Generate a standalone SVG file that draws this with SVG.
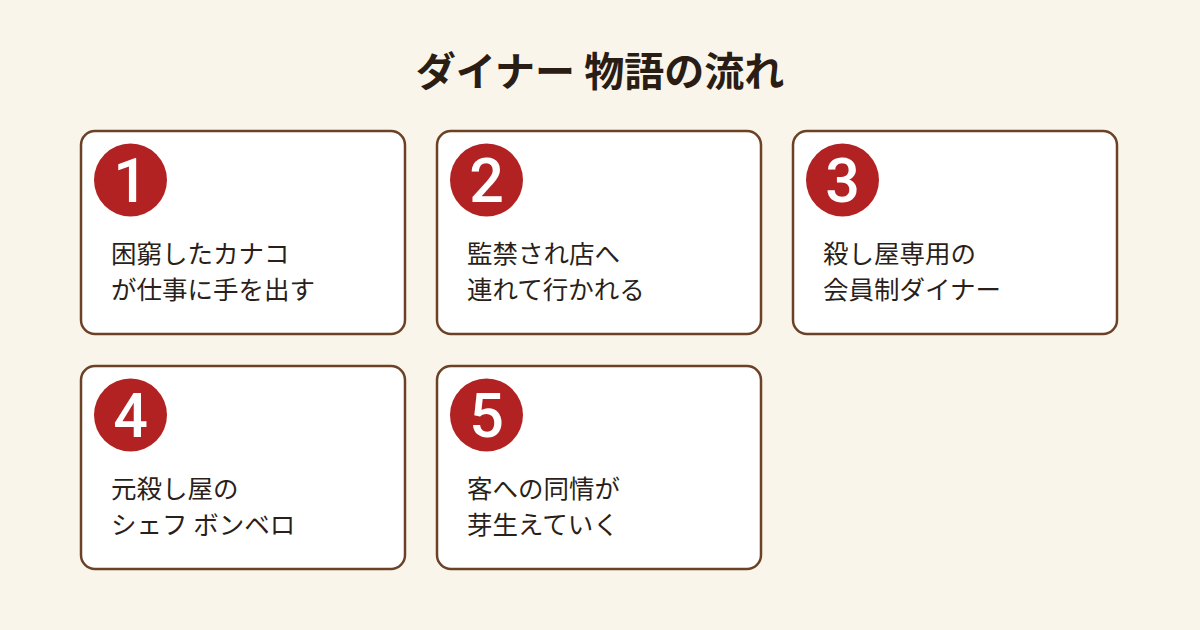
<svg xmlns="http://www.w3.org/2000/svg" width="1200" height="630" viewBox="0 0 1200 630">
<style>
.bg{fill:#faf5ea}
.card{fill:#ffffff;stroke:#6b4226;stroke-width:2.5}
.badge{fill:#b22222}
.num{font-family:Roboto,"Liberation Sans",Arial,sans-serif;font-weight:500;font-size:61px;fill:#ffffff;text-anchor:middle}
.txt{font-family:"Noto Sans CJK JP","Noto Sans",sans-serif;font-size:25.5px;fill:#2a1f1a}
.title{font-family:"Noto Sans CJK JP","Noto Sans",sans-serif;font-size:40px;font-weight:700;fill:#2a1d14;text-anchor:middle}
</style>
<rect class="bg" x="0" y="0" width="1200" height="630"/>
<text class="title" x="600" y="86">ダイナー 物語の流れ</text>
<g id="node1">
<rect class="card" x="81" y="131" width="324" height="203" rx="14"/>
<circle class="badge" cx="130.5" cy="180" r="36.5"/>
<text class="num" x="130.5" y="201.5">1</text>
<text class="txt" x="111" y="263">困窮したカナコ</text>
<text class="txt" x="111" y="299">が仕事に手を出す</text>
</g>
<g id="node2">
<rect class="card" x="437" y="131" width="324" height="203" rx="14"/>
<circle class="badge" cx="486.5" cy="180" r="36.5"/>
<text class="num" x="486.5" y="201.5">2</text>
<text class="txt" x="467" y="263">監禁され店へ</text>
<text class="txt" x="467" y="299">連れて行かれる</text>
</g>
<g id="node3">
<rect class="card" x="793" y="131" width="324" height="203" rx="14"/>
<circle class="badge" cx="842.5" cy="180" r="36.5"/>
<text class="num" x="842.5" y="201.5">3</text>
<text class="txt" x="823" y="263">殺し屋専用の</text>
<text class="txt" x="823" y="299">会員制ダイナー</text>
</g>
<g id="node4">
<rect class="card" x="81" y="366" width="324" height="203" rx="14"/>
<circle class="badge" cx="130.5" cy="415" r="36.5"/>
<text class="num" x="130.5" y="436.5">4</text>
<text class="txt" x="111" y="498">元殺し屋の</text>
<text class="txt" x="111" y="534">シェフ ボンベロ</text>
</g>
<g id="node5">
<rect class="card" x="437" y="366" width="324" height="203" rx="14"/>
<circle class="badge" cx="486.5" cy="415" r="36.5"/>
<text class="num" x="486.5" y="436.5">5</text>
<text class="txt" x="467" y="498">客への同情が</text>
<text class="txt" x="467" y="534">芽生えていく</text>
</g>
<g id="connectors"></g>
</svg>
